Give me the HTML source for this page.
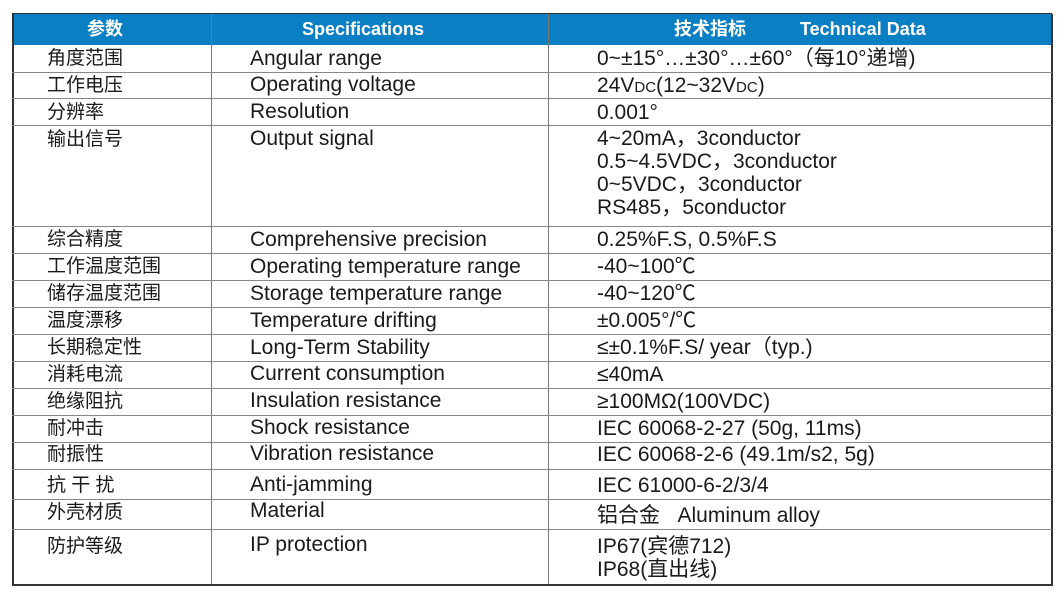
<!DOCTYPE html>
<html><head><meta charset="utf-8"><style>
body{margin:0;width:1064px;height:600px;background:#fff;position:relative;overflow:hidden;font-family:"Liberation Sans","Noto Sans CJK SC",sans-serif;color:#1a1a1a;}
.t{position:absolute;font-size:21px;line-height:23px;white-space:nowrap;}
.c{font-size:19px;}
.h{position:absolute;left:12px;top:14px;width:1040px;height:31px;background:#0b7fc4;}
.ht{position:absolute;color:#fff;font-weight:bold;font-size:18px;top:18px;line-height:23px;}
.hl{position:absolute;left:12px;width:1040px;height:1px;background:#888;}
.vl{position:absolute;top:14px;height:572px;width:1px;background:#777;}
</style></head><body>
<div class="h"></div>
<div class="ht" style="left:87px">参数</div>
<div class="ht" style="left:302px">Specifications</div>
<div class="ht" style="left:674px">技术指标</div>
<div class="ht" style="left:800px">Technical Data</div>
<div class="vl" style="left:12px;width:2px;background:#333"></div>
<div class="vl" style="left:211px"></div>
<div class="vl" style="left:548px"></div>
<div class="vl" style="left:1051px;width:2px;background:#333"></div>
<div class="hl" style="top:13px;background:#333"></div>
<div class="hl" style="top:72px"></div>
<div class="hl" style="top:98px"></div>
<div class="hl" style="top:125px"></div>
<div class="hl" style="top:226px"></div>
<div class="hl" style="top:253px"></div>
<div class="hl" style="top:280px"></div>
<div class="hl" style="top:307px"></div>
<div class="hl" style="top:334px"></div>
<div class="hl" style="top:361px"></div>
<div class="hl" style="top:388px"></div>
<div class="hl" style="top:415px"></div>
<div class="hl" style="top:442px"></div>
<div class="hl" style="top:469px"></div>
<div class="hl" style="top:499px"></div>
<div class="hl" style="top:529px"></div>
<div class="hl" style="top:584px;height:2px;background:#333"></div>

<div class="t c" style="left:47px;top:47px">角度范围</div><div class="t" style="left:250px;top:47px">Angular range</div><div class="t" style="left:597px;top:47px">0~±15°…±30°…±60°（每10°递增)</div>
<div class="t c" style="left:47px;top:74px">工作电压</div><div class="t" style="left:250px;top:73px">Operating voltage</div><div class="t" style="left:597px;top:74px">24V<span style="font-size:15px">DC</span>(12~32V<span style="font-size:15px">DC</span>)</div>
<div class="t c" style="left:47px;top:101px">分辨率</div><div class="t" style="left:250px;top:100px">Resolution</div><div class="t" style="left:597px;top:101px">0.001°</div>
<div class="t c" style="left:47px;top:128px">输出信号</div><div class="t" style="left:250px;top:127px">Output signal</div>
<div class="t" style="left:597px;top:127px">4~20mA，3conductor</div>
<div class="t" style="left:597px;top:150px">0.5~4.5VDC，3conductor</div>
<div class="t" style="left:597px;top:173px">0~5VDC，3conductor</div>
<div class="t" style="left:597px;top:196px">RS485，5conductor</div>
<div class="t c" style="left:47px;top:228px">综合精度</div><div class="t" style="left:250px;top:228px">Comprehensive precision</div><div class="t" style="left:597px;top:228px">0.25%F.S, 0.5%F.S</div>
<div class="t c" style="left:47px;top:255px">工作温度范围</div><div class="t" style="left:250px;top:255px">Operating temperature range</div><div class="t" style="left:597px;top:255px">-40~100℃</div>
<div class="t c" style="left:47px;top:282px">储存温度范围</div><div class="t" style="left:250px;top:282px">Storage temperature range</div><div class="t" style="left:597px;top:282px">-40~120℃</div>
<div class="t c" style="left:47px;top:309px">温度漂移</div><div class="t" style="left:250px;top:309px">Temperature drifting</div><div class="t" style="left:597px;top:309px">±0.005°/℃</div>
<div class="t c" style="left:47px;top:336px">长期稳定性</div><div class="t" style="left:250px;top:336px">Long-Term Stability</div><div class="t" style="left:597px;top:336px">≤±0.1%F.S/ year（typ.)</div>
<div class="t c" style="left:47px;top:363px">消耗电流</div><div class="t" style="left:250px;top:362px">Current consumption</div><div class="t" style="left:597px;top:363px">≤40mA</div>
<div class="t c" style="left:47px;top:390px">绝缘阻抗</div><div class="t" style="left:250px;top:389px">Insulation resistance</div><div class="t" style="left:597px;top:390px">≥100MΩ(100VDC)</div>
<div class="t c" style="left:47px;top:417px">耐冲击</div><div class="t" style="left:250px;top:416px">Shock resistance</div><div class="t" style="left:597px;top:417px">IEC 60068-2-27 (50g, 11ms)</div>
<div class="t c" style="left:47px;top:443px">耐振性</div><div class="t" style="left:250px;top:442px">Vibration resistance</div><div class="t" style="left:597px;top:443px">IEC 60068-2-6 (49.1m/s2, 5g)</div>
<div class="t c" style="left:47px;top:474px">抗 干 扰</div><div class="t" style="left:250px;top:473px">Anti-jamming</div><div class="t" style="left:597px;top:474px">IEC 61000-6-2/3/4</div>
<div class="t c" style="left:47px;top:501px">外壳材质</div><div class="t" style="left:250px;top:499px">Material</div><div class="t" style="left:597px;top:504px">铝合金 &nbsp; Aluminum alloy</div>
<div class="t c" style="left:47px;top:535px">防护等级</div><div class="t" style="left:250px;top:533px">IP protection</div>
<div class="t" style="left:597px;top:535px">IP67(宾德712)</div>
<div class="t" style="left:597px;top:558px">IP68(直出线)</div>
</body></html>
